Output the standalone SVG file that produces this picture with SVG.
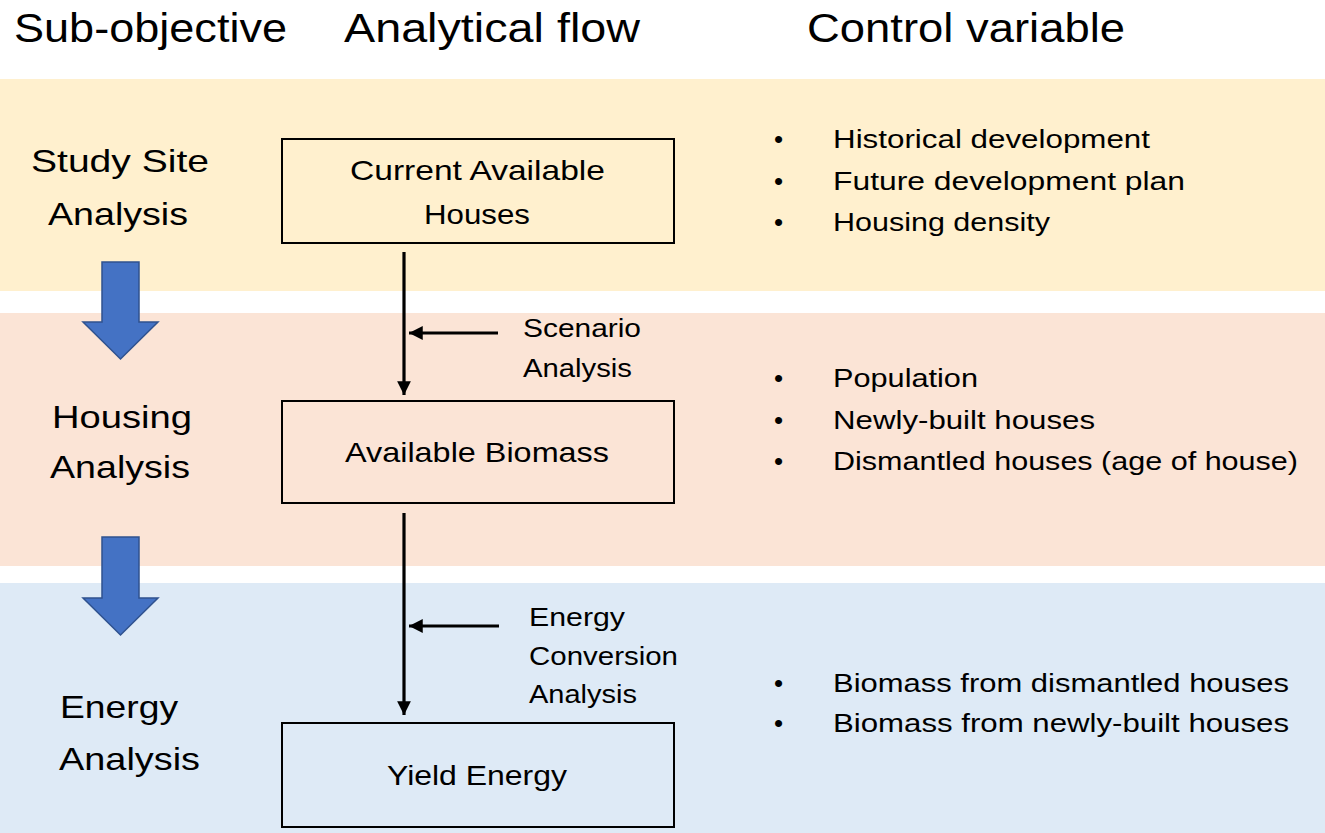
<svg xmlns="http://www.w3.org/2000/svg" width="1325" height="833" viewBox="0 0 1325 833">
<defs>
<style>
text{font-family:"Liberation Sans","Open Sans",sans-serif;fill:#000}
.h{font-size:40px}
.l{font-size:32px}
.b{font-size:28px}
.s{font-size:26px}
.box{fill:none;stroke:#000;stroke-width:2}
.big{fill:#4472C4;stroke:#2F528F;stroke-width:1.5}
.con{stroke:#000;stroke-width:3.2;fill:none}
</style>
<marker id="ah" viewBox="0 0 10 10" refX="10" refY="5" markerWidth="4.3" markerHeight="4.3" orient="auto" markerUnits="strokeWidth">
<path d="M0,0 L10,5 L0,10 z" fill="#000"/>
</marker>
</defs>
<rect width="1325" height="833" fill="#fff"/>
<g id="bands">
<rect x="0" y="79" width="1325" height="212" fill="#FFF0CE"/>
<rect x="0" y="313" width="1325" height="253" fill="#FBE4D6"/>
<rect x="0" y="583" width="1325" height="250" fill="#DEEAF6"/>
</g>
<g id="headers">
<text class="h" x="14" y="42" textLength="273" lengthAdjust="spacingAndGlyphs">Sub-objective</text>
<text class="h" x="344" y="42" textLength="296" lengthAdjust="spacingAndGlyphs">Analytical flow</text>
<text class="h" x="807" y="42" textLength="318" lengthAdjust="spacingAndGlyphs">Control variable</text>
</g>
<g id="sub-study">
<text class="l" x="31" y="172" textLength="178" lengthAdjust="spacingAndGlyphs">Study Site</text>
<text class="l" x="48" y="225" textLength="140" lengthAdjust="spacingAndGlyphs">Analysis</text>
</g>
<g id="sub-housing">
<text class="l" x="52" y="428" textLength="140" lengthAdjust="spacingAndGlyphs">Housing</text>
<text class="l" x="50" y="478" textLength="140" lengthAdjust="spacingAndGlyphs">Analysis</text>
</g>
<g id="sub-energy">
<text class="l" x="60" y="718" textLength="118" lengthAdjust="spacingAndGlyphs">Energy</text>
<text class="l" x="59" y="770" textLength="141" lengthAdjust="spacingAndGlyphs">Analysis</text>
</g>
<g id="big-arrows">
<path class="big" d="M102,262 H139 V322 H158 L120.5,359 L83,322 H102 Z"/>
<path class="big" d="M102,537 H139 V598 H158 L120.5,635 L83,598 H102 Z"/>
</g>
<g id="node-current">
<rect class="box" x="282" y="139" width="392" height="104"/>
<text class="b" x="350" y="180" textLength="255" lengthAdjust="spacingAndGlyphs">Current Available</text>
<text class="b" x="424" y="224" textLength="106" lengthAdjust="spacingAndGlyphs">Houses</text>
</g>
<g id="node-biomass">
<rect class="box" x="282" y="401" width="392" height="102"/>
<text class="b" x="345" y="462" textLength="264" lengthAdjust="spacingAndGlyphs">Available Biomass</text>
</g>
<g id="node-yield">
<rect class="box" x="282" y="723" width="392" height="104"/>
<text class="b" x="387" y="785" textLength="180" lengthAdjust="spacingAndGlyphs">Yield Energy</text>
</g>
<g id="connectors">
<line class="con" x1="404" y1="252" x2="404" y2="395" marker-end="url(#ah)"/>
<line class="con" x1="404" y1="513" x2="404" y2="715" marker-end="url(#ah)"/>
<line class="con" x1="498" y1="333" x2="409" y2="333" marker-end="url(#ah)"/>
<line class="con" x1="499" y1="626" x2="409" y2="626" marker-end="url(#ah)"/>
</g>
<g id="label-scenario">
<text class="s" x="523" y="337" textLength="118" lengthAdjust="spacingAndGlyphs">Scenario</text>
<text class="s" x="523" y="377" textLength="109" lengthAdjust="spacingAndGlyphs">Analysis</text>
</g>
<g id="label-energy">
<text class="s" x="529" y="626" textLength="96" lengthAdjust="spacingAndGlyphs">Energy</text>
<text class="s" x="529" y="665" textLength="149" lengthAdjust="spacingAndGlyphs">Conversion</text>
<text class="s" x="529" y="703" textLength="108" lengthAdjust="spacingAndGlyphs">Analysis</text>
</g>
<g id="list-study">
<text class="s" x="774" y="148">•</text><text class="s" x="833" y="148" textLength="317" lengthAdjust="spacingAndGlyphs">Historical development</text>
<text class="s" x="774" y="190">•</text><text class="s" x="833" y="190" textLength="352" lengthAdjust="spacingAndGlyphs">Future development plan</text>
<text class="s" x="774" y="231">•</text><text class="s" x="833" y="231" textLength="217" lengthAdjust="spacingAndGlyphs">Housing density</text>
</g>
<g id="list-housing">
<text class="s" x="774" y="387">•</text><text class="s" x="833" y="387" textLength="145" lengthAdjust="spacingAndGlyphs">Population</text>
<text class="s" x="774" y="429">•</text><text class="s" x="833" y="429" textLength="262" lengthAdjust="spacingAndGlyphs">Newly-built houses</text>
<text class="s" x="774" y="470">•</text><text class="s" x="833" y="470" textLength="465" lengthAdjust="spacingAndGlyphs">Dismantled houses (age of house)</text>
</g>
<g id="list-energy">
<text class="s" x="774" y="692">•</text><text class="s" x="833" y="692" textLength="456" lengthAdjust="spacingAndGlyphs">Biomass from dismantled houses</text>
<text class="s" x="774" y="732">•</text><text class="s" x="833" y="732" textLength="456" lengthAdjust="spacingAndGlyphs">Biomass from newly-built houses</text>
</g>
</svg>
